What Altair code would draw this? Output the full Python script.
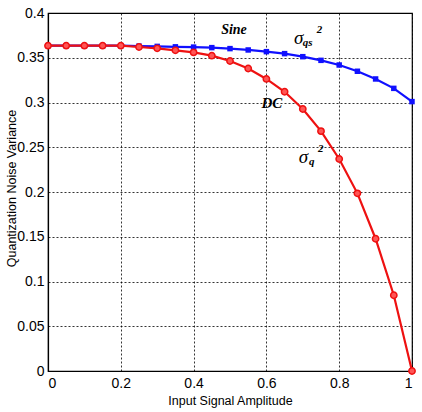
import altair as alt
import pandas as pd

amp = [0, 0.05, 0.1, 0.15, 0.2, 0.25, 0.3, 0.35, 0.4, 0.45, 0.5,
       0.55, 0.6, 0.65, 0.7, 0.75, 0.8, 0.85, 0.9, 0.95, 1.0]
sine_var = [0.3635, 0.3635, 0.3635, 0.3635, 0.3635, 0.3630, 0.3627, 0.3622, 0.3619, 0.3613, 0.3602,
            0.3587, 0.3568, 0.3546, 0.3512, 0.3471, 0.3419, 0.3349, 0.3263, 0.3158, 0.3010]
dc_var = [0.3635, 0.3635, 0.3635, 0.3635, 0.3635, 0.3620, 0.3605, 0.3583, 0.3560, 0.3523, 0.3464,
          0.3380, 0.3263, 0.3120, 0.2927, 0.2680, 0.2369, 0.1985, 0.1478, 0.0846, 0.0]

x_ticks = [0, 0.2, 0.4, 0.6, 0.8, 1.0]
y_ticks = [0, 0.05, 0.1, 0.15, 0.2, 0.25, 0.3, 0.35, 0.4]

# annotation pieces: text, x, y, size, weight, align
ann_text = ["Sine", "DC", "σ", "qs", "2", "σ", "q", "2"]
ann_x = [0.511, 0.615, 0.676, 0.700, 0.738, 0.689, 0.717, 0.742]
ann_y = [0.381, 0.2994, 0.372, 0.3665, 0.381, 0.2391, 0.2335, 0.248]
ann_size = [14, 15, 19, 11, 11, 19, 11, 11]
ann_weight = ["bold", "bold", "normal", "bold", "bold", "normal", "bold", "bold"]
ann_align = ["center", "center", "left", "left", "left", "left", "left", "left"]

sine_df = pd.DataFrame({"amp": amp, "var": sine_var})
dc_df = pd.DataFrame({"amp": amp, "var": dc_var})
ann_df = pd.DataFrame({"text": ann_text, "x": ann_x, "y": ann_y})

label_font = "Liberation Sans, Arial, sans-serif"

xscale = alt.Scale(domain=[0, 1], nice=False, zero=False)
yscale = alt.Scale(domain=[0, 0.4], nice=False, zero=False)

xenc = alt.X("amp:Q", scale=xscale,
             axis=alt.Axis(values=x_ticks, format="~g", title="Input  Signal  Amplitude"))
yenc = alt.Y("var:Q", scale=yscale,
             axis=alt.Axis(values=y_ticks, format="~g", title="Quantization  Noise  Variance",
                           titleX=-37, titleY=175, titleBaseline="middle", titleAlign="center",
                           titleAngle=270))

blue = "#1010ff"
red = "#ee1111"

sine_line = alt.Chart(sine_df).mark_line(color=blue, strokeWidth=2.2).encode(x=xenc, y=yenc)
sine_pts = alt.Chart(sine_df).mark_point(shape="square", filled=True, color=blue, size=30, opacity=1).encode(x=xenc, y=yenc)
dc_line = alt.Chart(dc_df).mark_line(color=red, strokeWidth=2.2).encode(x=xenc, y=yenc)
dc_pts = alt.Chart(dc_df).mark_point(shape="circle", filled=True, fill="#ff5555", stroke=red,
                                     strokeWidth=1.5, size=40, opacity=1).encode(x=xenc, y=yenc)

layers = [sine_line, dc_line, sine_pts, dc_pts]
for i in range(len(ann_text)):
    row = ann_df.iloc[[i]]
    layers.append(
        alt.Chart(row).mark_text(
            font="Liberation Serif, Times New Roman, serif",
            fontStyle="italic", fontWeight=ann_weight[i], fontSize=ann_size[i],
            align=ann_align[i], baseline="middle", color="black"
        ).encode(x=alt.X("x:Q", scale=xscale), y=alt.Y("y:Q", scale=yscale), text="text:N")
    )

chart = alt.layer(*layers).properties(
    width=364, height=358,
    autosize=alt.AutoSizeParams(type="none"),
    padding={"left": 48, "top": 13, "right": 10, "bottom": 41},
    background="white",
).configure_view(
    stroke="black", strokeWidth=1.2
).configure_axis(
    grid=True, gridColor="black", gridDash=[2, 2], gridWidth=0.8, gridOpacity=1,
    domain=True, domainColor="black", domainWidth=1.2,
    ticks=False, labelPadding=4,
    labelFont=label_font, labelFontSize=14, labelColor="black",
    titleFont=label_font, titleFontSize=12.5, titleFontWeight="normal", titleColor="black",
).configure_axisX(
    titlePadding=4, labelPadding=5,
)

chart.save("out.html", embed_options={"renderer": "svg", "actions": False})
